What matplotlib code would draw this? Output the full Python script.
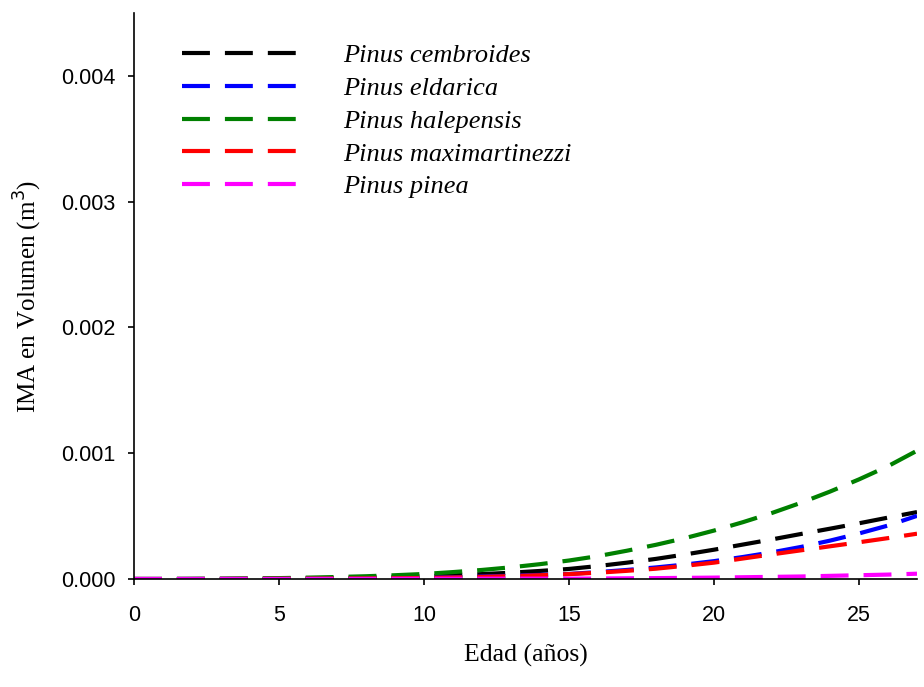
import matplotlib
matplotlib.use("Agg")
import matplotlib.pyplot as plt

# Age (years)
edad = list(range(0, 28))

# Mean annual volume increment (m^3) per species
cembroides = [0, 0, 0.0000005, 0.000001, 0.000002, 0.000003, 0.000005, 0.000008,
              0.000012, 0.000017, 0.000023, 0.00003, 0.000039, 0.00005, 0.000064,
              0.00008, 0.000103, 0.00013, 0.00016, 0.000195, 0.000233, 0.000274,
              0.000315, 0.000358, 0.0004, 0.000443, 0.000488, 0.000532]
eldarica = [0, 0, 0, 0.0000005, 0.000001, 0.000001, 0.000002, 0.000003,
            0.000005, 0.000007, 0.00001, 0.000014, 0.00002, 0.000026, 0.000033,
            0.00004, 0.000055, 0.000072, 0.000092, 0.000115, 0.000142, 0.000175,
            0.000212, 0.000255, 0.000305, 0.000362, 0.000425, 0.000502]
halepensis = [0, 0, 0.000001, 0.000002, 0.000004, 0.000007, 0.000011, 0.000016,
              0.000022, 0.00003, 0.00004, 0.000055, 0.000072, 0.000093, 0.000118,
              0.000147, 0.000182, 0.000225, 0.000272, 0.000325, 0.000385, 0.000452,
              0.000525, 0.000606, 0.000695, 0.000792, 0.000897, 0.00102]
maximartinezzi = [0, 0, 0, 0.0000005, 0.000001, 0.000001, 0.000002, 0.000003,
                  0.000004, 0.000006, 0.000008, 0.000012, 0.000017, 0.000023, 0.00003,
                  0.000039, 0.00005, 0.000065, 0.000082, 0.000105, 0.00013, 0.000163,
                  0.000196, 0.000228, 0.00026, 0.000292, 0.000325, 0.00036]
pinea = [0, 0, 0, 0, 0, 0.0000005, 0.000001, 0.000001, 0.000001, 0.0000015,
         0.000002, 0.000002, 0.0000025, 0.000003, 0.000003, 0.000003, 0.000004,
         0.0000055, 0.000007, 0.000009, 0.000011, 0.000014, 0.000017, 0.00002,
         0.000025, 0.00003, 0.000035, 0.000042]

series = [
    ("Pinus cembroides", cembroides, "black"),
    ("Pinus eldarica", eldarica, "blue"),
    ("Pinus halepensis", halepensis, "green"),
    ("Pinus maximartinezzi", maximartinezzi, "red"),
    ("Pinus pinea", pinea, "magenta"),
]

xticks = [0, 5, 10, 15, 20, 25]
yticks = [0.000, 0.001, 0.002, 0.003, 0.004]
ytick_labels = ["0.000", "0.001", "0.002", "0.003", "0.004"]

fig = plt.figure(figsize=(9.24, 6.87), dpi=100)
ax = fig.add_axes([134 / 924, 108 / 687, 783 / 924, 566 / 687])

lw = 3.0
for name, vals, col in series:
    ax.plot(edad, vals, color=col, lw=lw, dashes=(6.7, 3.6),
            dash_capstyle="butt", label=name)

ax.set_xlim(0, 27)
ax.set_ylim(0, 0.0045)
ax.set_xticks(xticks)
ax.set_yticks(yticks)
ax.set_yticklabels(ytick_labels)

for s in ("top", "right"):
    ax.spines[s].set_visible(False)
for s in ("left", "bottom"):
    ax.spines[s].set_linewidth(1.2)

ax.tick_params(axis="both", direction="out", length=4.5, width=1.2,
               labelsize=15.5)
ax.tick_params(axis="x", pad=14)
ax.tick_params(axis="y", pad=9)
for lab in ax.get_xticklabels() + ax.get_yticklabels():
    lab.set_fontfamily("Liberation Sans")

ax.set_xlabel("Edad (años)", fontfamily="Liberation Serif", fontsize=18.5,
              labelpad=13)
ax.set_ylabel("IMA en Volumen (m$^3$)", fontfamily="Liberation Serif",
              fontsize=18, labelpad=12)

leg = ax.legend(loc="upper left", bbox_to_anchor=(182 / 924, 1 - 44 / 687),
                bbox_transform=fig.transFigure, frameon=False,
                prop={"family": "Liberation Serif", "style": "italic", "size": 19},
                handlelength=4.4, handletextpad=1.7, labelspacing=0.35,
                borderpad=0, borderaxespad=0)

fig.savefig("out.png", dpi=100)
